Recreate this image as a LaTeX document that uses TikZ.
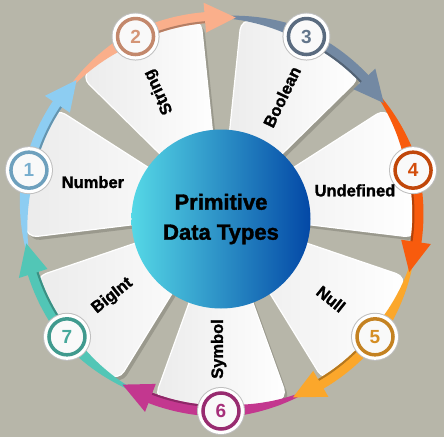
\documentclass[tikz,border=0pt]{standalone}
\usepackage{fontspec}
\setmainfont{Liberation Sans}
\newfontfamily\heavyfont{Liberation Sans}[BoldFeatures={FakeBold=1.6}]
\definecolor{bggray}{HTML}{B7B6A9}
\definecolor{segshadow}{HTML}{9A998D}
\definecolor{segface}{HTML}{EBEBEB}
\definecolor{cyanleft}{HTML}{55D8E6}
\definecolor{blueright}{HTML}{0348A6}
\definecolor{c1}{HTML}{8DCDF2}
\definecolor{c2}{HTML}{FAAF8B}
\definecolor{c3}{HTML}{7389A3}
\definecolor{c4}{HTML}{F85B0D}
\definecolor{c5}{HTML}{FBA72B}
\definecolor{c6}{HTML}{C3378F}
\definecolor{c7}{HTML}{52C6B6}

\begin{document}
\begin{tikzpicture}[x=1pt, y=1pt,
    segment/.pic={
        \fill[segshadow, rounded corners=11pt, shift={(3,-3.5)}] (0,0) -- ({#1-19.8}:196) -- ({#1-9.9}:197) -- (#1:197) -- ({#1+9.9}:197) -- ({#1+19.8}:196) -- cycle;
        \shade[left color=segface, right color=white, draw=white, line width=1.2pt, rounded corners=11pt] (0,0) -- ({#1-19.8}:196) -- ({#1-9.9}:197) -- (#1:197) -- ({#1+9.9}:197) -- ({#1+19.8}:196) -- cycle;
    },
    pics/band/.style 2 args={code={
        \fill[#2] plot[domain=0:52, samples=40] ({#1+30-\x}:{197+5.5*min(1,\x/25)}) -- plot[domain=0:52, samples=40] ({#1-22+\x}:{197-5.5*min(1,(52-\x)/25)}) -- cycle;
        \draw[#2!72!black, line width=2pt] ({#1+5}:192.5) arc[start angle={#1+5}, end angle={#1-22}, radius=192.5pt];
    }},
    pics/head/.style 2 args={code={
        \fill[#2] ({#1-21}:182) -- ({#1-30}:197) -- ({#1-21}:212) -- cycle;
    }},
    num/.style={circle, minimum size=36pt, inner sep=0pt, fill=gray!5, draw=#1!78!black, line width=3.5pt, text=#1!85!black, font=\bfseries\fontsize{19}{19}\selectfont, preaction={draw=gray!50, line width=12pt}, preaction={draw=white, line width=10pt}},
    lbl/.style={inner sep=0pt, font=\heavyfont\bfseries\fontsize{16.5}{18}\selectfont}]

    \useasboundingbox (-221,-223) rectangle (223,214);
    \fill[bggray] (-221,-223) rectangle (223,214);

    \pic at (0,0) {segment=167.14};
    \pic at (0,0) {segment=115.71};
    \pic at (0,0) {segment=64.29};
    \pic at (0,0) {segment=12.86};
    \pic at (0,0) {segment=-38.57};
    \pic at (0,0) {segment=-90};
    \pic at (0,0) {segment=-141.43};

    \pic at (0,0) {band={167.14}{c1}};
    \pic at (0,0) {band={115.71}{c2}};
    \pic at (0,0) {band={64.29}{c3}};
    \pic at (0,0) {band={12.86}{c4}};
    \pic at (0,0) {band={-38.57}{c5}};
    \pic at (0,0) {band={-90}{c6}};
    \pic at (0,0) {band={-141.43}{c7}};

    \pic at (0,0) {head={167.14}{c1}};
    \pic at (0,0) {head={115.71}{c2}};
    \pic at (0,0) {head={64.29}{c3}};
    \pic at (0,0) {head={12.86}{c4}};
    \pic at (0,0) {head={-38.57}{c5}};
    \pic at (0,0) {head={-90}{c6}};
    \pic at (0,0) {head={-141.43}{c7}};

    \node[circle, minimum size=179pt, inner sep=0pt, left color=cyanleft, right color=blueright, align=center, font=\heavyfont\bfseries\fontsize{22}{30}\selectfont] (types) at (0,-5) {Primitive\\Data Types};

    \node[num=c1] (1) at (167.14:197) {1};
    \node[num=c2] (2) at (115.71:197) {2};
    \node[num=c3] (3) at (64.29:197) {3};
    \node[num=c4] (4) at (12.86:197) {4};
    \node[num=c5] (5) at (-38.57:197) {5};
    \node[num=c6] (6) at (-90:197) {6};
    \node[num=c7] (7) at (-141.43:197) {7};

    \node[lbl] (number) at (166:132) {Number};
    \node[lbl, rotate=115.71] (string) at (117:137) {String};
    \node[lbl, rotate=64.29] (boolean) at (62.5:132) {Boolean};
    \node[lbl] (undefined) at (10:136) {Undefined};
    \node[lbl, rotate=-38.57] (null) at (-37.7:139) {Null};
    \node[lbl, rotate=90] (symbol) at (-91:135) {Symbol};
    \node[lbl, rotate=38.57] (bigint) at (-143:136) {BigInt};
\end{tikzpicture}
\end{document}
